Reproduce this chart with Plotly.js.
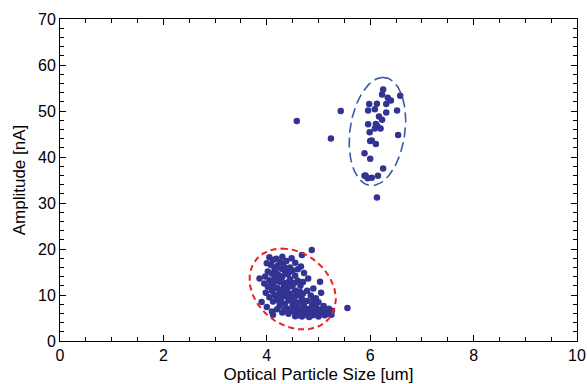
<!DOCTYPE html>
<html><head><meta charset="utf-8">
<script src="https://cdn.plot.ly/plotly-3.0.1.min.js"></script>
<style>html,body{margin:0;padding:0;background:#fff}#chart{width:587px;height:384px}</style>
</head><body><div id="chart"></div>
<script>
// Upper cluster (x = size um, y = amplitude nA)
const upperX = [6.25,6.23,6.34,6.40,6.58,5.98,6.13,6.31,5.96,6.09,6.31,6.52,5.43,6.17,6.23,5.96,6.11,6.14,6.20,6.09,5.99,6.54,5.24,6.00,6.03,6.11,5.89,6.00,6.25,5.89,5.95,6.03,6.15,5.91,6.13,4.58];
const upperY = [54.7,53.6,52.9,52.3,53.3,51.5,51.6,51.5,50.1,50.4,49.7,50.1,50.0,48.8,48.1,47.1,47.2,46.7,46.2,46.2,45.4,44.8,44.0,43.5,43.6,42.8,40.8,39.6,37.5,35.9,35.4,35.5,35.9,36.0,31.2,47.8];
// Lower cluster
const lowerX = [4.05,4.12,4.18,4.25,4.32,4.08,4.20,4.38,4.45,4.15,4.28,4.02,4.35,4.50,4.10,4.22,4.40,4.55,3.97,4.30,4.15,3.86,4.05,4.45,4.60,4.25,4.35,3.95,4.12,4.50,4.02,4.20,4.40,4.65,4.30,4.10,3.98,4.55,4.25,4.45,4.15,4.35,4.60,4.05,4.28,4.50,4.20,4.42,4.12,4.66,4.68,4.87,4.55,4.60,4.72,4.80,4.70,5.03,5.05,4.90,4.78,4.85,4.00,4.30,4.48,
  4.00,4.10,4.12,4.20,4.25,4.30,4.35,4.40,4.42,4.48,4.50,4.52,4.55,4.58,4.60,4.62,4.65,4.68,4.70,4.72,4.75,4.78,4.80,4.82,4.85,4.88,4.90,4.92,4.95,4.98,5.00,5.02,5.05,5.08,5.10,5.12,5.15,5.18,5.20,5.22,5.25,5.26,4.45,4.58,4.70,4.95,4.35,4.62,4.78,4.88,4.55,4.68,4.82,5.00,4.72,4.90,5.56,3.90,4.25,
  4.18,4.27,4.33,4.38,4.43,4.23,4.13,4.37,4.47,4.53,4.57,4.63,4.67,4.74,4.77,4.84,4.93,4.97,4.64,4.53,4.43,4.08,4.17,4.33];
const lowerY = [18.2,17.6,17.9,17.2,16.8,16.5,16.3,17.4,16.0,15.5,15.7,15.1,15.2,15.3,14.6,14.4,14.5,14.2,14.0,13.9,13.5,13.6,13.2,13.4,13.1,12.9,12.6,12.5,12.3,12.2,11.8,11.6,11.7,12.0,11.2,10.9,10.5,11.0,10.6,10.3,10.0,9.8,10.1,9.5,9.3,9.6,9.0,8.8,8.6,16.2,18.7,19.8,17.0,15.6,14.8,13.6,12.8,12.9,10.5,11.4,10.9,9.9,16.9,18.3,18.0,
  7.4,6.4,5.7,6.9,7.6,6.2,8.1,7.0,5.9,6.6,7.8,8.6,6.1,7.2,5.6,8.3,6.7,9.2,5.9,7.5,6.3,8.7,5.5,7.0,6.0,8.0,6.6,5.7,7.3,6.2,8.4,5.8,6.9,6.1,7.6,5.6,6.5,5.9,7.0,6.3,5.7,6.6,9.4,9.9,10.3,9.3,6.8,6.4,6.9,5.6,5.4,5.3,5.2,5.3,8.2,9.0,7.2,8.5,8.3,
  13.1,14.1,12.1,10.9,12.9,9.7,11.3,15.8,11.9,9.1,7.6,7.0,6.0,6.8,5.8,6.4,7.7,6.1,10.7,12.6,14.9,12.8,15.0,10.2];

// Ellipse guides: centre, conjugate semi-diameters (data units)
const blueEllipse = {cx: 6.14, cy: 45.55, vx: 0.11, vy: 11.75, hx: 0.535, hy: 0};
const redEllipse  = {cx: 4.50, cy: 11.3,  vx: -0.205, vy: 8.8, hx: 0.81, hy: 0};

const xTickVals = [0,2,4,6,8,10];
const yTickVals = [0,10,20,30,40,50,60,70];

function ellipse(e){
  const xs=[], ys=[];
  for(let i=0;i<=120;i++){
    const t = 2*Math.PI*i/120;
    xs.push(e.cx + e.vx*Math.cos(t) + e.hx*Math.sin(t));
    ys.push(e.cy + e.vy*Math.cos(t) + e.hy*Math.sin(t));
  }
  return {xs, ys};
}
const be = ellipse(blueEllipse), re = ellipse(redEllipse);
const dotColor = '#333393';

const data = [
  {x: lowerX, y: lowerY, type:'scatter', mode:'markers', marker:{color:dotColor, size:6.5}, hoverinfo:'skip'},
  {x: upperX, y: upperY, type:'scatter', mode:'markers', marker:{color:dotColor, size:6.5}, hoverinfo:'skip'},
  {x: re.xs, y: re.ys, type:'scatter', mode:'lines', line:{color:'#ee2222', width:2, dash:'6px,4px'}, hoverinfo:'skip'},
  {x: be.xs, y: be.ys, type:'scatter', mode:'lines', line:{color:'#3a5aa8', width:1.6, dash:'10px,5px'}, hoverinfo:'skip'}
];

const axisCommon = {
  showline:true, linecolor:'#000', linewidth:1, mirror:'ticks',
  ticks:'inside', ticklen:6, tickcolor:'#000', tickwidth:1,
  showgrid:false, zeroline:false,
  tickfont:{family:'Liberation Sans, Arial, sans-serif', size:16, color:'#000'}
};

const layout = {
  width:587, height:384,
  margin:{l:60, r:10, t:19, b:43},
  paper_bgcolor:'#fff', plot_bgcolor:'#fff',
  showlegend:false,
  font:{family:'Liberation Sans, Arial, sans-serif', color:'#000'},
  xaxis: Object.assign({}, axisCommon, {
    range:[0,10], tickvals:xTickVals, ticktext:xTickVals.map(String),
    minor:{dtick:0.5, ticks:'inside', ticklen:4, tickcolor:'#000', showgrid:false},
    title:{text:'Optical Particle Size [um]', font:{size:17, color:'#000'}, standoff:4}
  }),
  yaxis: Object.assign({}, axisCommon, {
    range:[0,70], tickvals:yTickVals, ticktext:yTickVals.map(String),
    minor:{dtick:2, ticks:'inside', ticklen:4, tickcolor:'#000', showgrid:false},
    title:{text:'Amplitude [nA]', font:{size:17, color:'#000'}, standoff:8}
  })
};

Plotly.newPlot('chart', data, layout, {staticPlot:true, displayModeBar:false});
</script></body></html>
